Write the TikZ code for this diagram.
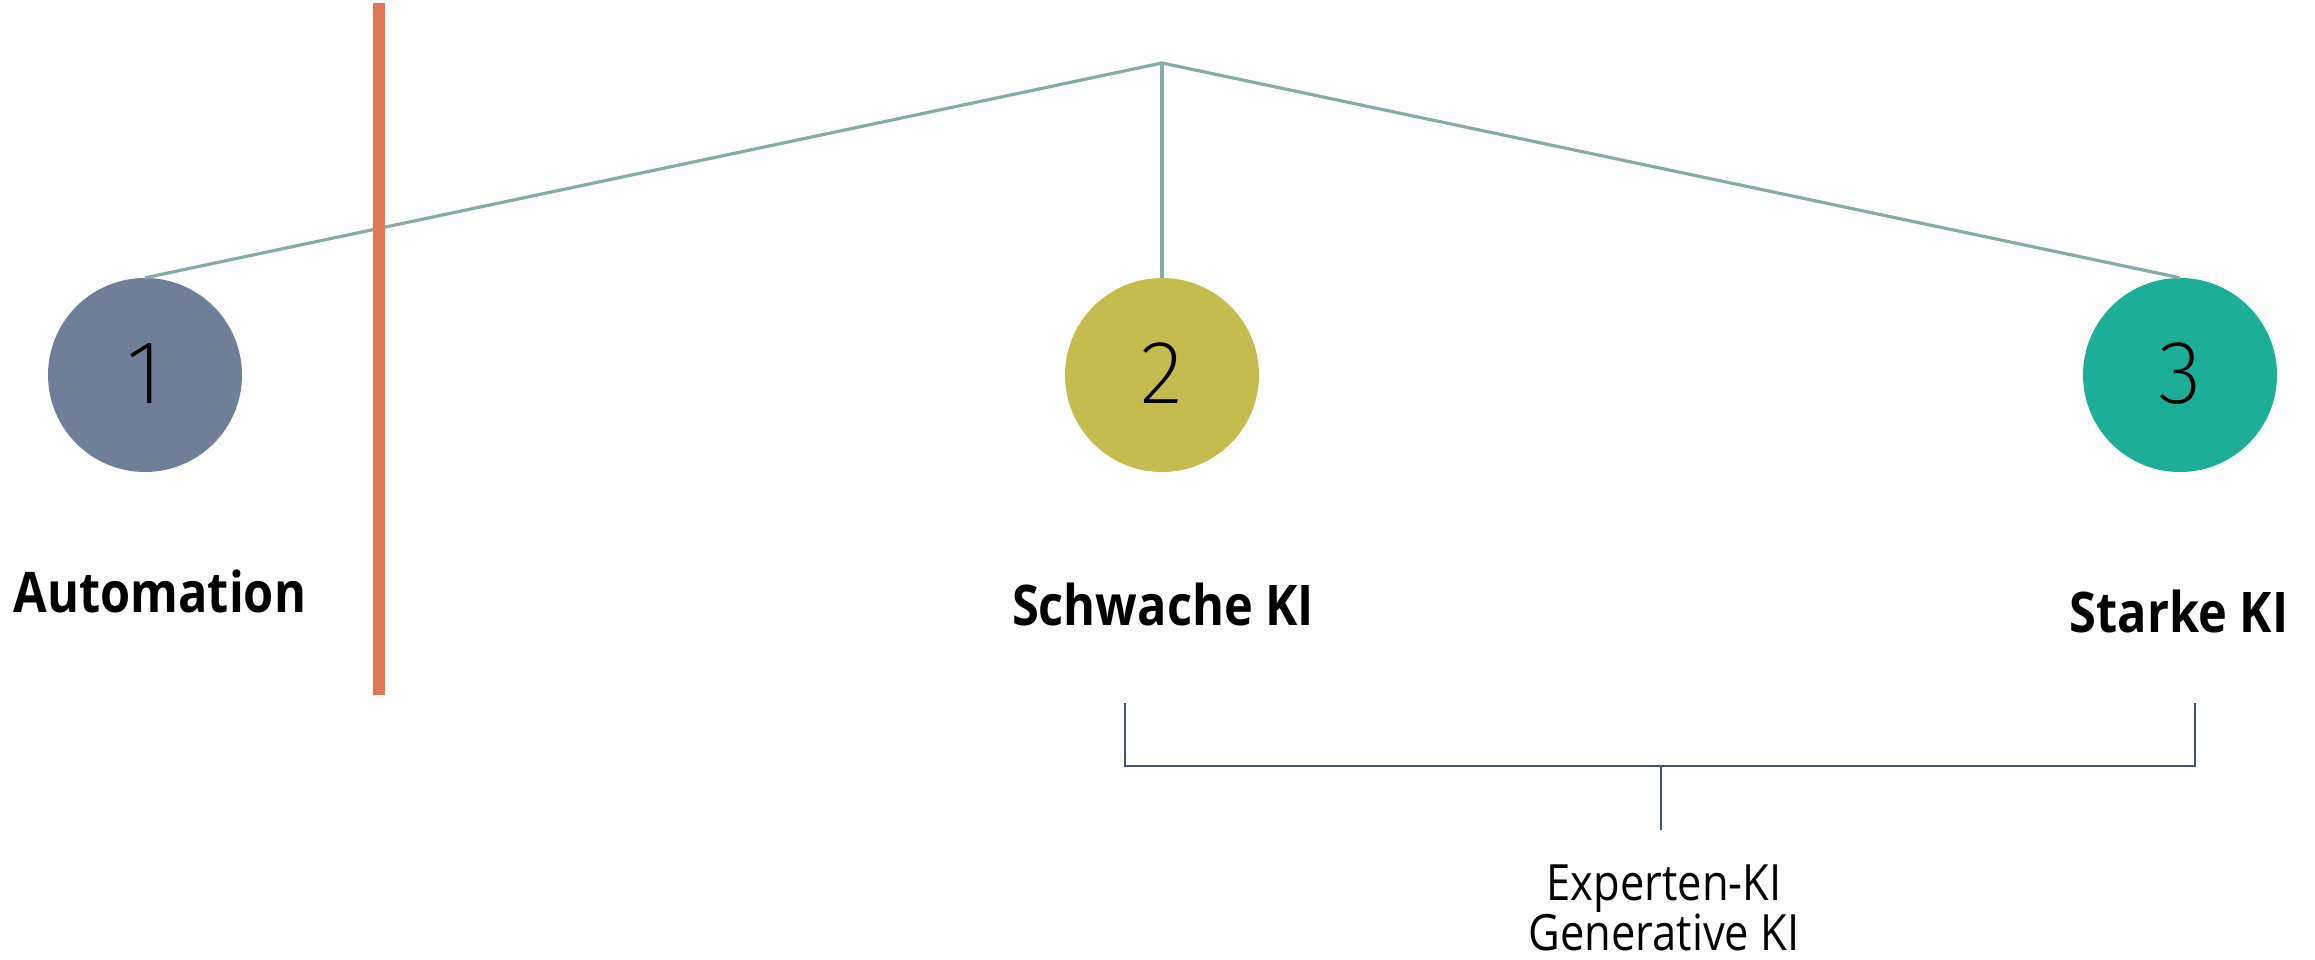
\documentclass[tikz,border=0pt]{standalone}
\usepackage{fontspec}
\setmainfont{Open Sans}[FakeStretch=0.87]
\IfFontExistsTF{Fira Sans ExtraLight}{\newfontfamily\numfont{Fira Sans ExtraLight}}{%
  \IfFontExistsTF{Fira Sans Light}{\newfontfamily\numfont{Fira Sans Light}}{\newfontfamily\numfont{Open Sans}}}
\definecolor{cone}{HTML}{6F7E99}
\definecolor{ctwo}{HTML}{C4BC4E}
\definecolor{cthree}{HTML}{1CAE97}
\definecolor{treeline}{HTML}{87AAA6}
\definecolor{barorange}{HTML}{E07856}
\definecolor{bracketcol}{HTML}{44546A}
\begin{document}
\begin{tikzpicture}[x=1pt,y=-1pt,
  stage/.style={circle,minimum size=194pt,inner sep=0pt,draw=none},
  num/.style={font=\numfont\fontsize{90}{90}\selectfont,anchor=base,inner sep=0pt},
  lbl/.style={font=\fontsize{56}{60}\selectfont\bfseries,anchor=base,inner sep=0pt},
  sub/.style={font=\fontsize{50}{56}\selectfont,anchor=base,inner sep=0pt},
  tree/.style={draw=treeline,line width=3.2pt},
  brk/.style={draw=bracketcol,line width=1.8pt}]
\useasboundingbox (0,0) rectangle (2315,959);
\node[stage,fill=cone] (c1) at (145,375) {};
\node[stage,fill=ctwo] (c2) at (1162,375) {};
\node[stage,fill=cthree] (c3) at (2180,375) {};
\node[num] (n1) at (145,403) {1};
\node[num] (n2) at (1162,403) {2};
\node[num] (n3) at (2180,403) {3};
\coordinate (apex) at (1162,63);
\draw[tree] (c1.north) -- (apex) -- (c3.north);
\draw[tree] (apex) -- (c2.north);
\draw[draw=barorange,line width=12pt] (379,3) coordinate (bt) -- (379,695) coordinate (bb);
\node[lbl] (l1) at (160,612) {Automation};
\node[lbl] (l2) at (1163,625) {Schwache KI};
\node[lbl] (l3) at (2179,632) {Starke KI};
\coordinate (bl) at (1125,703);
\coordinate (br) at (2195,703);
\coordinate (bm) at (1661,766);
\coordinate (bs) at (1661,830);
\draw[brk] (bl) |- (bm) -| (br);
\draw[brk] (bm) -- (bs);
\node[sub] (e1) at (1664,900) {Experten-KI};
\node[sub] (e2) at (1664,950) {Generative KI};
\end{tikzpicture}
\end{document}
